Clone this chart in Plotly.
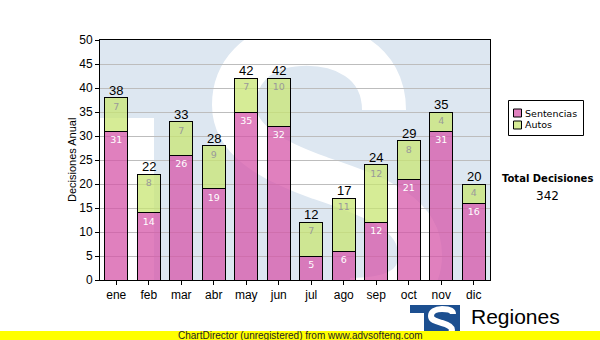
import base64
import plotly.graph_objects as go

# Monthly decisions, split by type
meses = ["ene", "feb", "mar", "abr", "may", "jun", "jul", "ago", "sep", "oct", "nov", "dic"]
sentencias = [31, 14, 26, 19, 35, 32, 5, 6, 12, 21, 31, 16]
autos = [7, 8, 7, 9, 7, 10, 7, 11, 12, 8, 4, 4]
series_names = ["Sentencias", "Autos"]
totales = [s + a for s, a in zip(sentencias, autos)]
total_decisiones = sum(totales)

W, H = 600, 340
PL, PR, PT, PB = 100, 490, 40, 280  # plot area, pixels

PINK = "rgba(214,86,168,0.75)"
GREEN = "rgba(200,230,115,0.75)"


def px_x(px):
    return (px - PL) / (PR - PL)


def px_y(py):
    return (PB - py) / (PB - PT)


def svg_uri(svg):
    return "data:image/svg+xml;base64," + base64.b64encode(svg.encode()).decode()


# Faint "TS" emblem behind the bars
pw, ph = PR - PL, PB - PT
emblem = f'''<svg xmlns="http://www.w3.org/2000/svg" width="{pw}" height="{ph}" viewBox="0 0 {pw} {ph}">
<rect width="{pw}" height="{ph}" fill="#dde7f1"/>
<rect x="0" y="78" width="54" height="170" fill="#ffffff"/>
<path d="M 284 70 C 284 20 240 2 200 4 C 155 6 134 35 134 65 C 134 100 170 120 220 138
C 280 158 320 175 320 215 C 320 250 290 260 250 260"
 fill="none" stroke="#ffffff" stroke-width="44"/>
</svg>'''

# Small logo in the footer
logo = '''<svg xmlns="http://www.w3.org/2000/svg" width="50" height="30" viewBox="0 0 50 30">
<rect width="50" height="30" fill="#1c4f90"/>
<rect x="0" y="8" width="14" height="22" fill="#ffffff"/>
<path d="M 43 9 C 43 5 38 4 32 4 C 25 4 21 7 21 11 C 21 15 25 16 32 18 C 39 20 42 22 42 25 C 42 29 36 30 30 30"
 stroke="#ffffff" stroke-width="6" fill="none"/>
</svg>'''

AXIS_FONT = "Liberation Sans, Arial, sans-serif"
SMALL_FONT = "DejaVu Sans, Verdana, sans-serif"

fig = go.Figure()
for vals, name, color, tcolor in [(sentencias, series_names[0], PINK, "white"),
                                  (autos, series_names[1], GREEN, "#9a9a9a")]:
    fig.add_bar(
        x=meses, y=vals, name=name,
        marker=dict(color=color, line=dict(color="black", width=1)),
        text=vals, textposition="inside", insidetextanchor="end",
        textangle=0, constraintext="none",
        textfont=dict(color=tcolor, size=9.5, family=SMALL_FONT),
        hoverinfo="skip", showlegend=False,
    )

annotations = []
for m, t in zip(meses, totales):
    annotations.append(dict(
        x=m, y=t, xref="x", yref="y", text=str(t), showarrow=False,
        yanchor="bottom", yshift=-2,
        font=dict(family=AXIS_FONT, size=13, color="black"),
    ))

annotations += [
    dict(x=px_x(72), y=px_y(160), xref="paper", yref="paper", text="Decisiones Anual",
         textangle=-90, showarrow=False, xanchor="center", yanchor="middle",
         font=dict(family=AXIS_FONT, size=11, color="black")),
    dict(x=px_x(547), y=px_y(178), xref="paper", yref="paper", text="<b>Total Decisiones</b>",
         showarrow=False, xanchor="center", yanchor="middle",
         font=dict(family=SMALL_FONT, size=10, color="black")),
    dict(x=px_x(547), y=px_y(196), xref="paper", yref="paper", text=str(total_decisiones),
         showarrow=False, xanchor="center", yanchor="middle",
         font=dict(family=SMALL_FONT, size=12, color="black")),
    dict(x=px_x(469), y=px_y(316), xref="paper", yref="paper", text="Regiones",
         showarrow=False, xanchor="left", yanchor="middle",
         font=dict(family=AXIS_FONT, size=21, color="black")),
    dict(x=px_x(300), y=px_y(335.5), xref="paper", yref="paper",
         text="ChartDirector (unregistered) from www.advsofteng.com",
         showarrow=False, xanchor="center", yanchor="middle",
         font=dict(family=AXIS_FONT, size=10, color="#222222")),
]

shapes = [
    dict(type="rect", xref="paper", yref="paper",
         x0=px_x(0), x1=px_x(W), y0=px_y(H), y1=px_y(331),
         fillcolor="#ffff00", line=dict(width=0), layer="above"),
    # legend frame
    dict(type="rect", xref="paper", yref="paper",
         x0=px_x(508.5), x1=px_x(583.5), y0=px_y(135.5), y1=px_y(100.5),
         fillcolor="white", line=dict(color="black", width=1)),
]

# legend entries: swatch + label
for i, (name, color) in enumerate(zip(series_names, [PINK, GREEN])):
    cy = 113 + 12 * i
    shapes.append(dict(type="rect", xref="paper", yref="paper",
                       x0=px_x(513.5), x1=px_x(521.5), y0=px_y(cy + 4), y1=px_y(cy - 4),
                       fillcolor=color, line=dict(color="black", width=1)))
    annotations.append(dict(x=px_x(523), y=px_y(cy), xref="paper", yref="paper", text=name,
                            showarrow=False, xanchor="left", yanchor="middle",
                            font=dict(family=SMALL_FONT, size=9.5, color="black")))

images = [
    dict(source=svg_uri(emblem), xref="paper", yref="paper", x=0, y=1,
         sizex=1, sizey=1, sizing="stretch", xanchor="left", yanchor="top", layer="below"),
    dict(source=svg_uri(logo), xref="paper", yref="paper", x=px_x(410), y=px_y(305),
         sizex=50 / pw, sizey=30 / ph, sizing="stretch", xanchor="left", yanchor="top",
         layer="above"),
]

fig.update_layout(
    width=W, height=H,
    margin=dict(l=PL, r=W - PR, t=PT, b=H - PB, pad=0, autoexpand=False),
    paper_bgcolor="white", plot_bgcolor="white",
    barmode="stack", bargap=0.3,
    showlegend=False,
    annotations=annotations, shapes=shapes, images=images,
    font=dict(family=AXIS_FONT, color="black"),
)
fig.update_yaxes(
    range=[0, 50], dtick=5, tick0=0,
    ticks="outside", ticklen=4, tickcolor="black",
    tickfont=dict(family=AXIS_FONT, size=12, color="black"),
    showgrid=True, gridcolor="#bdbdbd", gridwidth=1,
    showline=True, linecolor="black", linewidth=1, mirror=True, zeroline=False,
)
fig.update_xaxes(
    ticks="outside", ticklen=4, tickcolor="black",
    tickfont=dict(family=AXIS_FONT, size=12, color="black"),
    showline=True, linecolor="black", linewidth=1, mirror=True,
)

fig.write_html("out.html", config={"displayModeBar": False})
